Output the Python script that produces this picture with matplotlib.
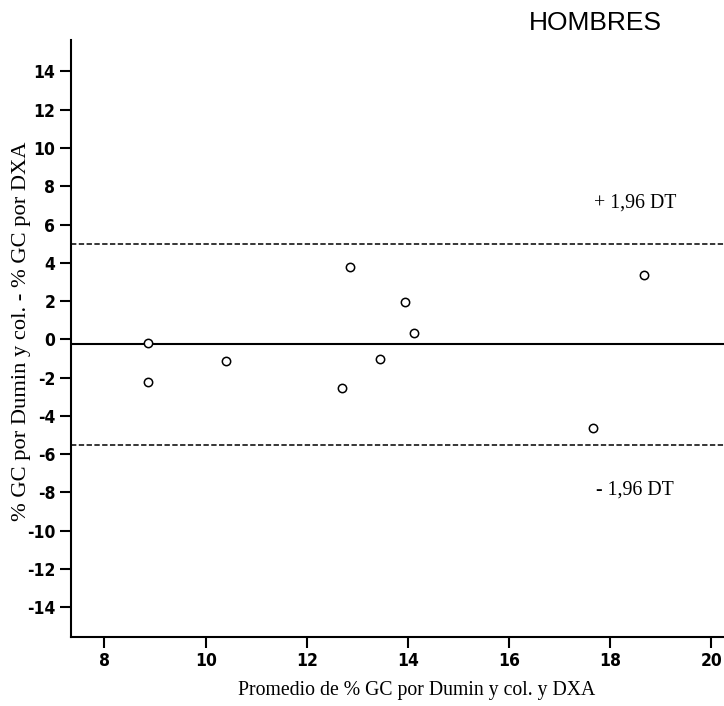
import matplotlib
matplotlib.use("Agg")
import matplotlib.pyplot as plt

plt.rcParams["axes.unicode_minus"] = False

# Data
promedio = [8.87, 8.87, 10.41, 12.69, 12.85, 13.44, 13.94, 14.12, 17.65, 18.66]
diferencia = [-0.21, -2.22, -1.12, -2.56, 3.76, -1.03, 1.95, 0.31, -4.65, 3.36]
media = -0.26
lim_sup = 4.97
lim_inf = -5.50
xticks = [8, 10, 12, 14, 16, 18, 20]
yticks = [-14, -12, -10, -8, -6, -4, -2, 0, 2, 4, 6, 8, 10, 12, 14]

W, H = 724, 706
fig = plt.figure(figsize=(W / 100, H / 100), dpi=100)
ax = fig.add_axes([70.6 / W, 1 - 637 / H, (W - 70.6) / W, (637 - 40) / H])

ax.axhline(media, color="black", lw=1.5)
ax.axhline(lim_sup, color="black", lw=1.1, ls=(0, (3.5, 1.6)))
ax.axhline(lim_inf, color="black", lw=1.1, ls=(0, (3.5, 1.6)))

ax.plot(promedio, diferencia, linestyle="none", marker="o", markersize=6,
        markerfacecolor="white", markeredgecolor="black", markeredgewidth=1.1)

ax.set_xlim(7.33, 20.25)
ax.set_ylim(-15.55, 15.64)
ax.set_xticks(xticks)
ax.set_yticks(yticks)

for s in ["top", "right"]:
    ax.spines[s].set_visible(False)
for s in ["left", "bottom"]:
    ax.spines[s].set_linewidth(1.5)

ax.tick_params(axis="both", direction="out", length=8, width=1.5, pad=3)
for lab in ax.get_xticklabels() + ax.get_yticklabels():
    lab.set_family(["DejaVu Sans"])
    lab.set_fontstretch("condensed")
    lab.set_fontsize(12.5)
    lab.set_fontweight("bold")

serif = ["Liberation Serif", "DejaVu Serif"]
ax.text(18.49, 7.12, "+ 1,96 DT", ha="center", va="center", family=serif, fontsize=14.3)
ax.text(18.49, -7.87, "- 1,96 DT", ha="center", va="center", family=serif, fontsize=14.3)

fig.text(595 / W, 1 - 23 / H, "HOMBRES", ha="center", va="center",
         family=["Liberation Sans", "DejaVu Sans"], fontsize=19)

fig.text(417 / W, 1 - 690 / H, "Promedio de % GC por Dumin y col. y DXA",
         ha="center", va="center", family=serif, fontsize=14.2)
fig.text(22 / W, 1 - 331 / H, "% GC por Dumin y col. - % GC por DXA",
         ha="center", va="center", rotation=90, family=serif, fontsize=16.2)

fig.savefig("out.png", dpi=100)
